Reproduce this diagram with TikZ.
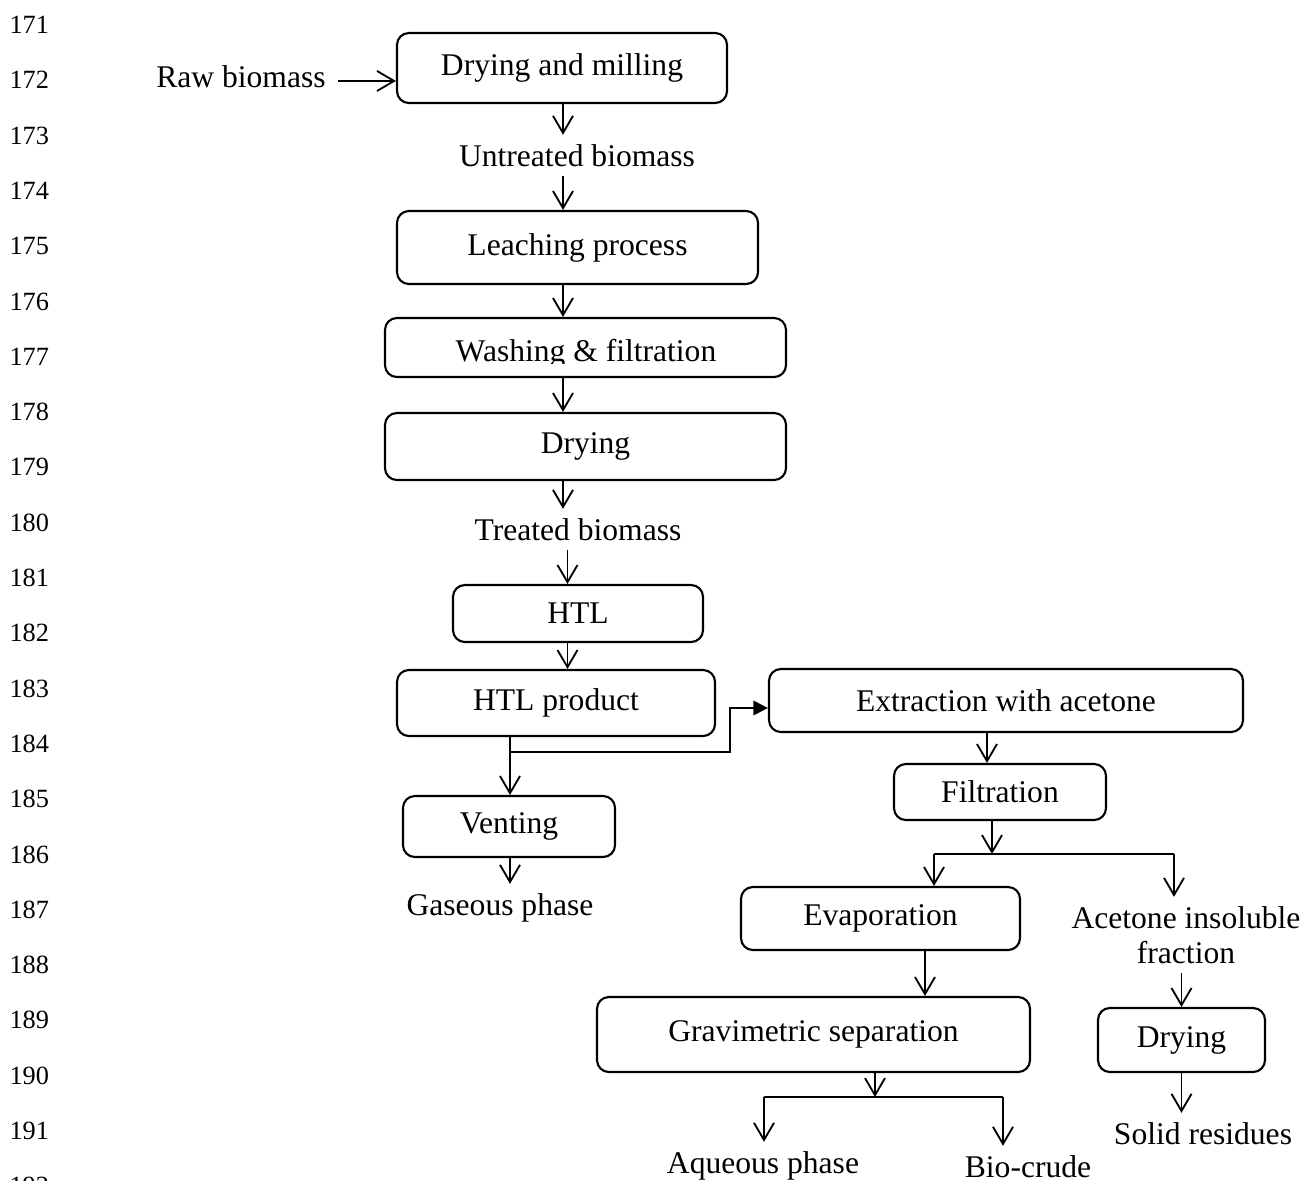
\documentclass[tikz,border=0pt]{standalone}
\usepackage{fontspec}
\setmainfont{Liberation Serif}
\usetikzlibrary{arrows.meta, positioning}
\newcommand\pbox[6]{\node[pbox, minimum width={(#4-#2)*0.38pt}, minimum height={(#5-#3)*0.38pt}] (#1) at ({(#2+#4)/2},{(#3+#5)/2}) {#6};}

\begin{document}
\begin{tikzpicture}[x=0.38pt, y=-0.38pt,
  every node/.style={font=\fontsize{12pt}{13.5pt}\selectfont},
  pbox/.style={draw, rounded corners=4.5pt, line width=0.8pt},
  lnum/.style={font=\fontsize{10pt}{12pt}\selectfont, inner sep=0pt, anchor=base west},
  arr/.style={line width=0.7pt, -{Straight Barb[length=6.5pt, width=7.6pt]}},
  farr/.style={line width=0.7pt, -{Triangle[length=5.5pt, width=5.5pt]}}]
\useasboundingbox (0,0) rectangle (1303,1181);
% line numbers
\foreach \n [count=\i from 0] in {171,...,192}
  \node[lnum] (l\n) at (9,{33.5+\i*55.3}) {\n};
% process boxes
\pbox{dm}{397}{33}{727}{103}{Drying and milling}
\pbox{leach}{397}{211}{758}{284}{Leaching process}
\pbox{wash}{385}{318}{786}{377}{}
\pbox{dryA}{385}{413}{786}{480}{Drying}
\pbox{htl}{453}{585}{703}{642}{HTL}
\pbox{htlp}{397}{670}{715}{736}{HTL product}
\pbox{ext}{769}{669}{1243}{732}{Extraction with acetone}
\pbox{filt}{894}{764}{1106}{820}{Filtration}
\pbox{vent}{403}{796}{615}{857}{Venting}
\pbox{evap}{741}{887}{1020}{950}{Evaporation}
\pbox{grav}{597}{997}{1030}{1072}{Gravimetric separation}
\pbox{dryB}{1098}{1008}{1265}{1072}{Drying}
\begin{scope}
  \clip (wash.north west) rectangle (wash.east |- 0,363);
  \node[anchor=base] (washtxt) at (586,361) {Washing \& filtration};
\end{scope}
% streams
\node[anchor=base, inner sep=4.5pt] (raw) at (241,87) {Raw biomass};
\node[anchor=base] (ub) at (577,166) {Untreated biomass};
\node[anchor=base] (tb) at (578,540) {Treated biomass};
\node[anchor=base] (gas) at (500,915) {Gaseous phase};
\node[align=center] (ains) at (1186,935) {Acetone insoluble\\fraction};
\node[anchor=base] (aq) at (763,1173) {Aqueous phase};
\node[anchor=base] (bio) at (1028,1177) {Bio-crude};
\node[anchor=base] (solid) at (1203,1144) {Solid residues};
% columns and junctions
\coordinate (sA) at (563,0);
\coordinate (sB) at (567.5,0);
\coordinate (sC) at (987,0);
\coordinate (sE) at (925,0);
\coordinate (hj) at (510,752);
\coordinate (hb) at (730,708);
\coordinate (fj) at (992,854);
\coordinate (fl) at (934,854);
\coordinate (fr) at (1174,854);
\coordinate (gj) at (875,1097);
\coordinate (gl) at (764,1097);
\coordinate (gr) at (1003,1097);
% main line
\draw[arr] (raw.mid east) -- (raw.mid east -| dm.west);
\draw[arr] (dm.south -| sA) -- (ub.north -| sA);
\draw[arr] (ub.south -| sA) -- (leach.north -| sA);
\draw[arr] (leach.south -| sA) -- (wash.north -| sA);
\draw[arr] (wash.south -| sA) -- (dryA.north -| sA);
\draw[arr] (dryA.south -| sA) -- (tb.north -| sA);
\draw[arr] (tb.south -| sB) -- (htl.north -| sB);
\draw[arr] (htl.south -| sB) -- (htlp.north -| sB);
% gas and extraction
\draw[arr] (htlp.south -| hj) -- (vent.north -| hj);
\draw[farr] (hj) -| (hb) -- (hb -| ext.west);
\draw[arr] (vent.south -| hj) -- (gas.north -| hj);
\draw[arr] (ext.south -| sC) -- (filt.north -| sC);
\draw[arr] (filt.south -| fj) -- (fj);
\draw (fl) -- (fr);
\draw[arr] (fl) -- (fl |- evap.north);
\draw[arr] (fr) -- (fr |- ains.north);
\draw[arr] (evap.south -| sE) -- (grav.north -| sE);
\draw[arr] (grav.south -| gj) -- (gj);
\draw (gl) -- (gr);
\draw[arr] (gl) -- (gl |- aq.north);
\draw[arr] (gr) -- (gr |- bio.north);
\draw[arr] (ains.south -| dryB.north) -- (dryB.north);
\draw[arr] (dryB.south) -- (solid.north -| dryB.south);
\end{tikzpicture}
\end{document}
